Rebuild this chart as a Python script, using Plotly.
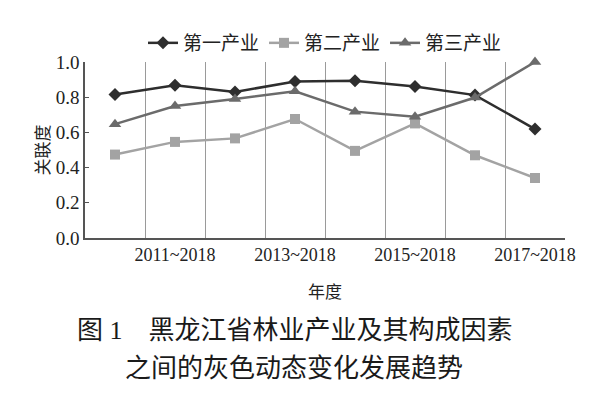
import plotly.graph_objects as go

categories = ["2010~2018", "2011~2018", "2012~2018", "2013~2018",
              "2014~2018", "2015~2018", "2016~2018", "2017~2018"]
primary = [0.815, 0.868, 0.830, 0.889, 0.893, 0.861, 0.812, 0.619]
secondary = [0.474, 0.546, 0.566, 0.676, 0.495, 0.651, 0.470, 0.341]
tertiary = [0.647, 0.750, 0.790, 0.834, 0.718, 0.689, 0.798, 1.000]
series_names = ["第一产业", "第二产业", "第三产业"]
shown_labels = ["2011~2018", "2013~2018", "2015~2018", "2017~2018"]
y_ticks = [0.0, 0.2, 0.4, 0.6, 0.8, 1.0]

xidx = list(range(len(categories)))
tickvals = [categories.index(c) for c in shown_labels]

FONT = "Liberation Serif, Noto Sans CJK SC"

fig = go.Figure()
styles = [
    (primary, "#2e2e2e", "diamond", 10),
    (secondary, "#a3a3a3", "square", 10),
    (tertiary, "#6b6b6b", "triangle-up", 11),
]
for name, (vals, col, sym, sz) in zip(series_names, styles):
    fig.add_trace(go.Scatter(
        x=xidx, y=vals, name=name, mode="lines+markers",
        line=dict(color=col, width=2.5),
        marker=dict(symbol=sym, size=sz, color=col),
        cliponaxis=False,
    ))

fig.update_layout(
    width=600, height=398,
    margin=dict(l=85, r=35, t=62, b=160),
    paper_bgcolor="white", plot_bgcolor="white",
    font=dict(family=FONT, size=17, color="#222"),
    showlegend=True,
    legend=dict(orientation="h", x=0.5, xanchor="center", y=1.0, yanchor="bottom",
                font=dict(size=19, family=FONT), itemwidth=30,
                traceorder="normal", bgcolor="rgba(0,0,0,0)"),
    xaxis=dict(
        range=[-0.5, len(categories) - 0.5],
        tickvals=tickvals, ticktext=shown_labels,
        showgrid=False, zeroline=False,
        showline=True, linecolor="#555", linewidth=1.5,
        ticks="", tickfont=dict(size=18),
        minor=dict(showgrid=True, tick0=0.5, dtick=1, gridcolor="#9a9a9a", gridwidth=1),
        title=dict(text="年度", font=dict(size=17), standoff=22),
    ),
    yaxis=dict(
        range=[0, 1], tickvals=y_ticks, ticktext=[f"{v:.1f}" for v in y_ticks],
        showgrid=False, zeroline=False,
        showline=True, linecolor="#555", linewidth=1.5,
        ticks="inside", ticklen=4, tickcolor="#555",
        tickfont=dict(size=19),
        title=dict(text="关联度", font=dict(size=17), standoff=2),
    ),
)

fig.add_annotation(text="图 1　黑龙江省林业产业及其构成因素", xref="paper", yref="paper",
                   x=0.437, y=-0.523, xanchor="center", yanchor="middle", showarrow=False,
                   font=dict(size=26, family=FONT, color="#1a1a1a"))
fig.add_annotation(text="之间的灰色动态变化发展趋势", xref="paper", yref="paper",
                   x=0.436, y=-0.739, xanchor="center", yanchor="middle", showarrow=False,
                   font=dict(size=26, family=FONT, color="#1a1a1a"))

fig.write_html("out.html")
